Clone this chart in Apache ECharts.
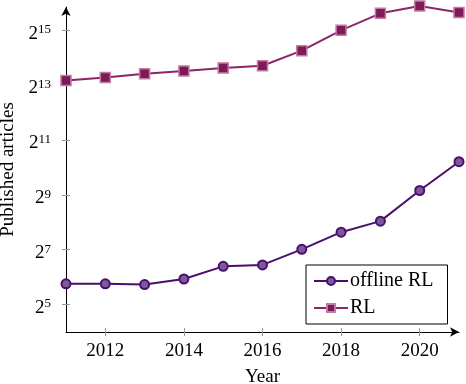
<!DOCTYPE html>
<html>
<head>
<meta charset="utf-8">
<script src="https://cdn.jsdelivr.net/npm/echarts@6/dist/echarts.min.js"></script>
<style>html,body{margin:0;padding:0;background:#fff;}#c{width:466px;height:384px;}</style>
</head>
<body>
<div id="c"></div>
<script>
var years = [2011, 2012, 2013, 2014, 2015, 2016, 2017, 2018, 2019, 2020, 2021];
var offlineRL = [54, 54, 53, 61, 84, 87, 129, 199, 263, 570, 1180];
var rl = [9150, 9880, 10880, 11670, 12590, 13300, 19480, 32540, 50000, 60300, 51050];
var yTickExps = [5, 7, 9, 11, 13, 15];
var xTicks = [2012, 2014, 2016, 2018, 2020];

var FONT = "'Liberation Serif', 'Times New Roman', serif";
var FS = 19;
function pts(vals) { return years.map(function (y, i) { return [y, Math.log2(vals[i])]; }); }

var chart = echarts.init(document.getElementById('c'), null, {renderer: 'canvas'});
chart.setOption({
  animation: false,
  backgroundColor: '#fff',
  textStyle: {fontFamily: FONT},
  grid: {left: 66, right: 7, top: 7, bottom: 52, containLabel: false, outerBoundsMode: 'none'},
  xAxis: [{
    type: 'value', min: 2011, max: 2021,
    name: 'Year', nameLocation: 'middle', nameGap: 36,
    nameTextStyle: {fontFamily: FONT, fontSize: FS, color: '#000'},
    axisLine: {show: true, lineStyle: {color: '#000', width: 1}, symbol: ['none', 'arrow'], symbolSize: [7, 9]},
    axisTick: {show: true, length: 4, lineStyle: {color: '#999'}, customValues: xTicks},
    axisLabel: {
      customValues: xTicks, margin: 10, color: '#000',
      fontFamily: FONT, fontSize: FS,
      formatter: function (v) { return '{a|' + v + '}'; },
      rich: {a: {fontFamily: FONT, fontSize: FS, color: '#000'}}
    },
    splitLine: {show: false}
  }, {
    type: 'value', min: 2011, max: 2021, position: 'bottom',
    axisLine: {show: false},
    axisTick: {show: true, inside: true, length: 4, lineStyle: {color: '#999'}, customValues: xTicks},
    axisLabel: {show: false},
    splitLine: {show: false}
  }],
  yAxis: [{
    type: 'value', min: 4, max: 15.84,
    name: 'Published articles', nameLocation: 'middle', nameGap: 47, nameRotate: 90,
    nameTextStyle: {fontFamily: FONT, fontSize: FS, color: '#000'},
    axisLine: {show: true, lineStyle: {color: '#000', width: 1}, symbol: ['none', 'arrow'], symbolSize: [7, 9]},
    axisTick: {show: true, length: 4, lineStyle: {color: '#999'}, customValues: yTickExps},
    axisLabel: {
      customValues: yTickExps, margin: 15, color: '#000',
      formatter: function (v) { return '{b|2}{s|' + v + '}'; },
      rich: {
        b: {fontFamily: FONT, fontSize: FS, color: '#000', lineHeight: 20, verticalAlign: 'bottom', padding: [0, 0, -3, 0]},
        s: {fontFamily: FONT, fontSize: 13, color: '#000', lineHeight: 20, verticalAlign: 'bottom', padding: [0, 0, 4, 0]}
      }
    },
    splitLine: {show: false}
  }, {
    type: 'value', min: 4, max: 15.84, position: 'left',
    axisLine: {show: false},
    axisTick: {show: true, inside: true, length: 4, lineStyle: {color: '#999'}, customValues: yTickExps},
    axisLabel: {show: false},
    splitLine: {show: false}
  }],
  legend: {
    orient: 'vertical', left: 306, top: 265, width: 141,
    backgroundColor: '#fff', borderColor: '#000', borderWidth: 1, borderRadius: 0,
    padding: [6, 14, 6, 7], itemGap: 7, itemWidth: 34, itemHeight: 10,
    textStyle: {fontFamily: FONT, fontSize: 20, color: '#000', padding: [0, 0, 0, -3]},
    data: ['offline RL', 'RL']
  },
  series: [{
    name: 'offline RL', type: 'line', data: pts(offlineRL), clip: false,
    symbol: 'circle', symbolSize: 9,
    lineStyle: {color: '#4a0f6e', width: 2},
    itemStyle: {color: '#7a5a9a', borderColor: '#4a0f6e', borderWidth: 2}
  }, {
    name: 'RL', type: 'line', data: pts(rl), clip: false,
    symbol: 'rect', symbolSize: 10,
    lineStyle: {color: '#8e2468', width: 2},
    itemStyle: {color: '#7e1a58', borderColor: '#c27aa5', borderWidth: 1.5}
  }]
});
</script>
</body>
</html>
